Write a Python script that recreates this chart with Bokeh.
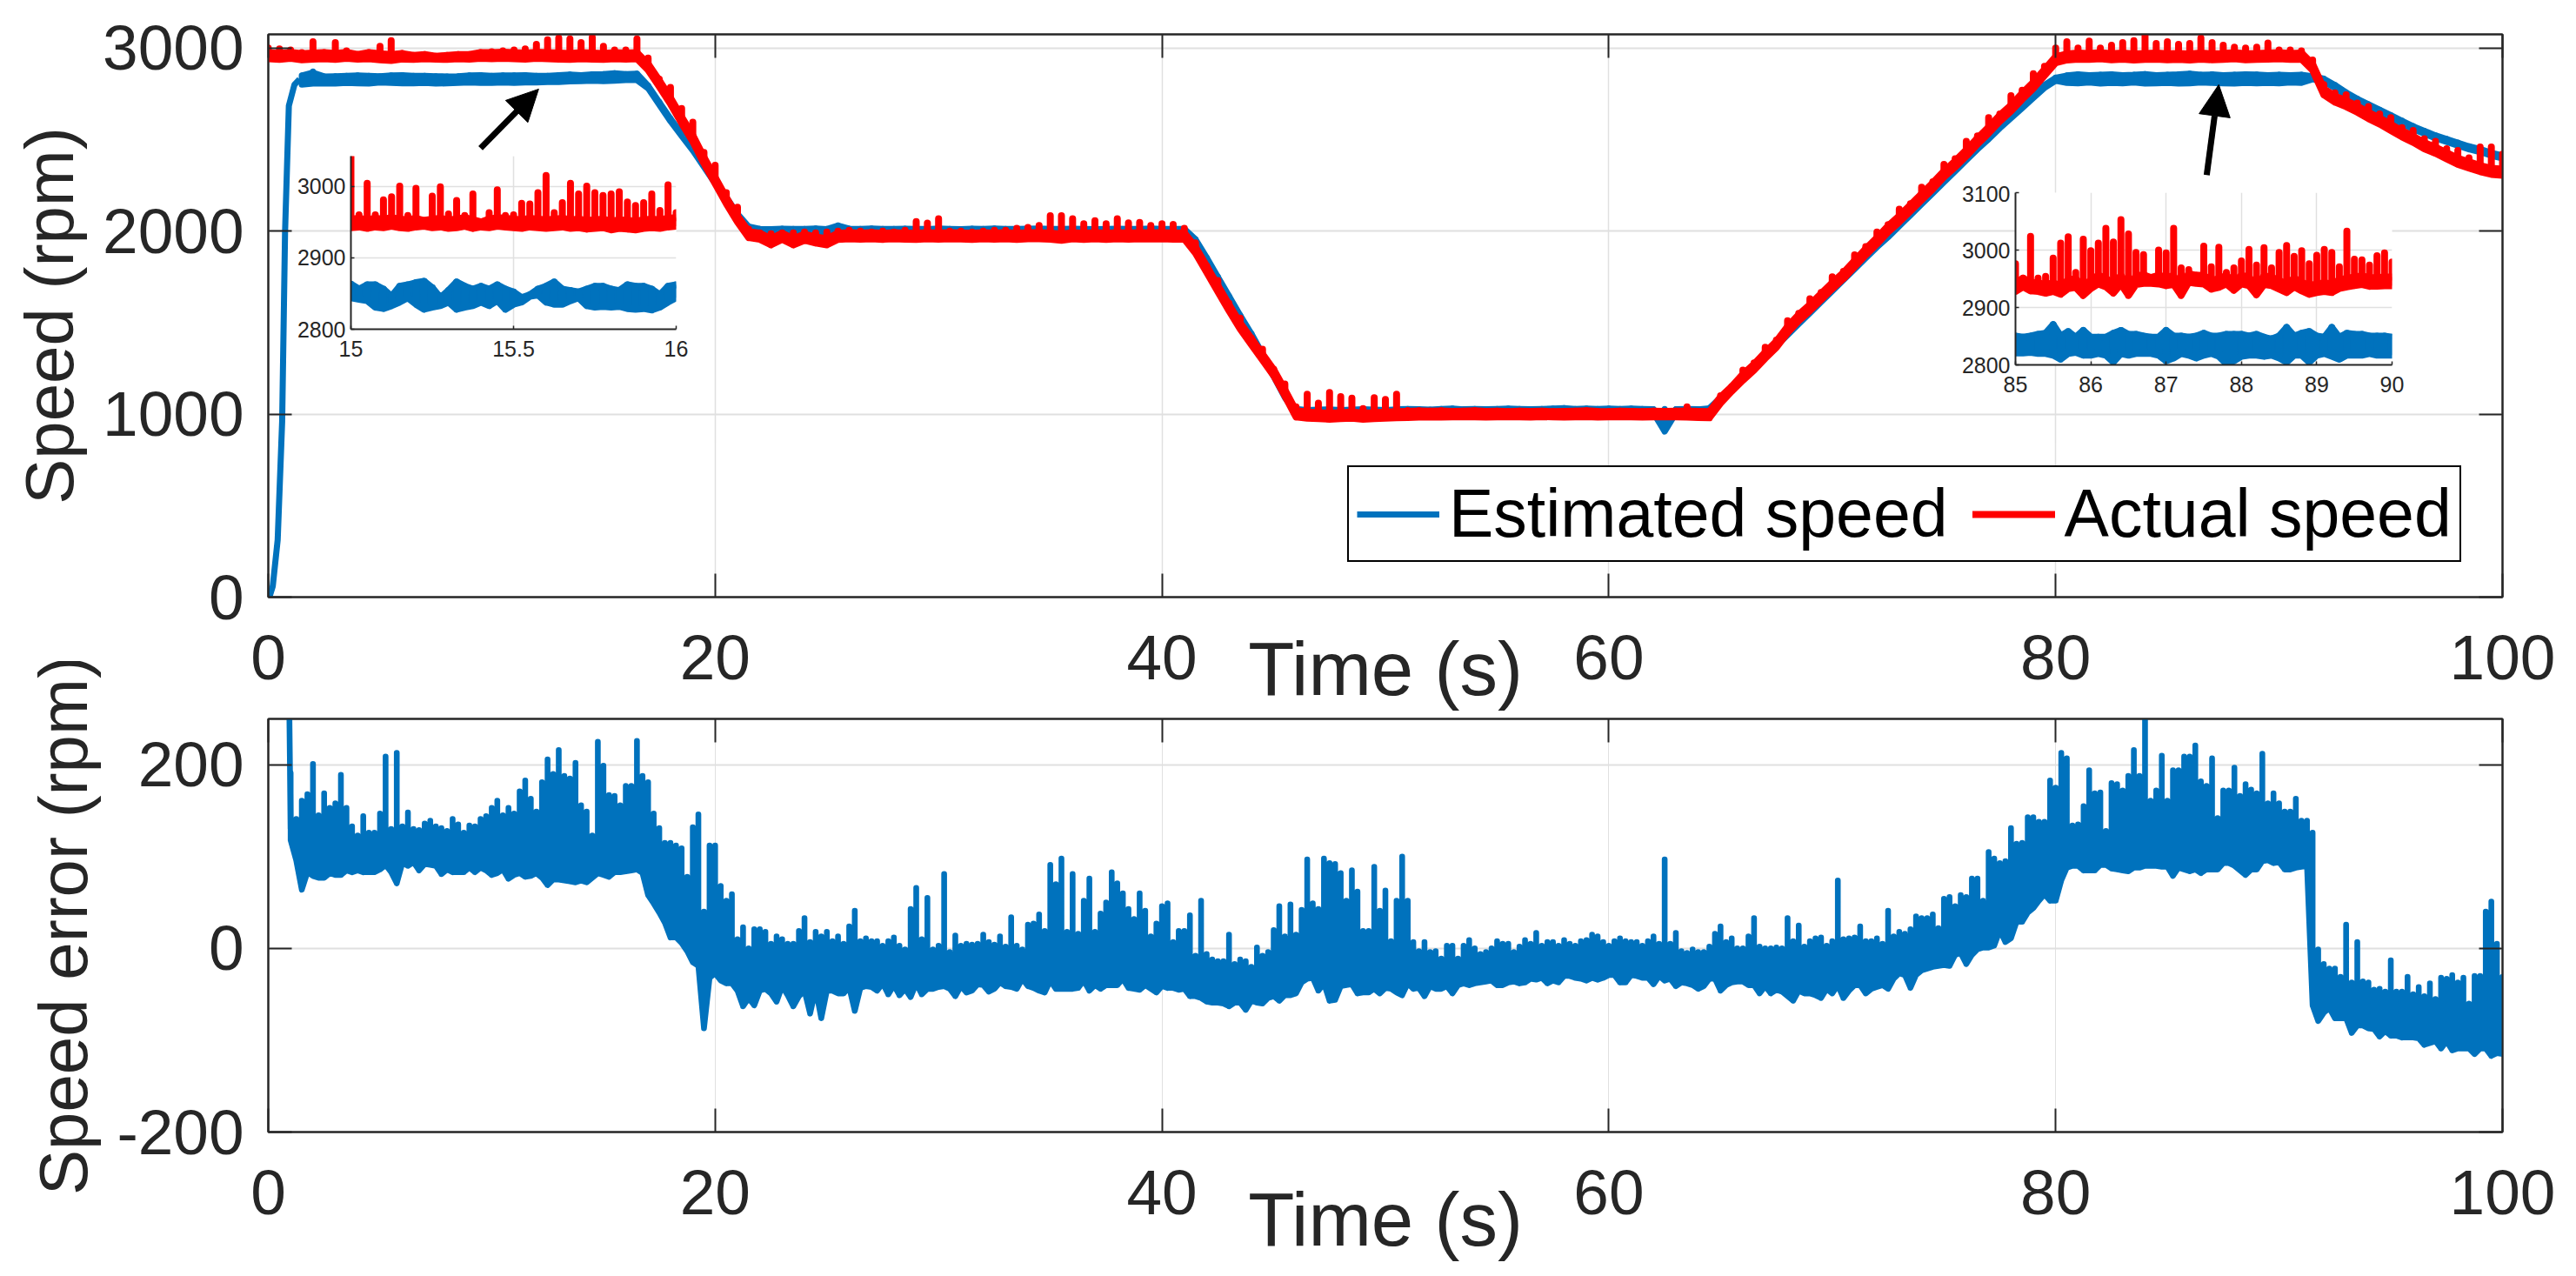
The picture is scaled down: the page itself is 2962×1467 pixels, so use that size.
import numpy as np
from bokeh.embed import file_html
from bokeh.models import (Arrow, FixedTicker, Legend, LegendItem, LinearAxis,
                          NormalHead, Range1d)
from bokeh.plotting import figure
from bokeh.resources import INLINE

# ---- top panel, estimated speed (rpm) --------------------------------------
BLUE_RISE_T = [0, 0.05, 0.2, 0.42, 0.62, 0.75, 0.92, 1.17, 1.4]
BLUE_RISE_V = [0, 0, 60, 313, 958, 1994, 2685, 2800, 2830]
BLUE_SPANS = [(1.5, 16.5), (17, 21.5), (22, 41), (41.5, 45.5), (46, 64), (64.5, 80), (80.5, 91), (91.5, 100)]
BLUE_HI = [
    [2850, 2872, 2845, 2846, 2848, 2850, 2848, 2846, 2850, 2852, 2848, 2848, 2846, 2845, 2846, 2850, 2852, 2848, 2850, 2850, 2852, 2848, 2848, 2852, 2855, 2852, 2856, 2858, 2862, 2858, 2860],
    [2795, 2705, 2615, 2535, 2455, 2365, 2275, 2185, 2095, 2025],
    [2012, 2010, 2013, 2011, 2012, 2014, 2011, 2030, 2013, 2012, 2014, 2012, 2011, 2013, 2012, 2011, 2014, 2012, 2010, 2013, 2012, 2014, 2012, 2011, 2013, 2014, 2012, 2011, 2013, 2012, 2010, 2012, 2013, 2011, 2012, 2014, 2012, 2011, 2012],
    [1955, 1855, 1750, 1645, 1540, 1440, 1330, 1220, 1105],
    [1028, 1022, 1024, 1026, 1022, 1024, 1026, 1024, 1022, 1026, 1028, 1026, 1024, 1028, 1030, 1026, 1028, 1026, 1028, 1030, 1028, 1026, 1028, 1030, 1032, 1028, 1030, 1028, 1030, 1028, 1030, 1028, 1026, 1028, 1026, 1028, 1026],
    [1032, 1090, 1150, 1208, 1268, 1328, 1388, 1448, 1508, 1568, 1628, 1688, 1748, 1808, 1868, 1928, 1983, 2043, 2103, 2163, 2223, 2283, 2343, 2403, 2463, 2518, 2578, 2633, 2688, 2743, 2798, 2838],
    [2850, 2856, 2852, 2854, 2856, 2852, 2854, 2858, 2852, 2854, 2856, 2860, 2854, 2856, 2852, 2854, 2856, 2855, 2852, 2854, 2852, 2854],
    [2846, 2833, 2798, 2758, 2723, 2693, 2663, 2633, 2603, 2573, 2548, 2523, 2503, 2483, 2463, 2448, 2428, 2413],
]
BLUE_LO = [
    [2800, 2806, 2808, 2806, 2810, 2808, 2806, 2812, 2810, 2808, 2808, 2810, 2806, 2808, 2810, 2812, 2810, 2810, 2812, 2810, 2812, 2812, 2815, 2815, 2818, 2820, 2822, 2820, 2822, 2825, 2825],
    [2780, 2690, 2600, 2520, 2440, 2350, 2260, 2170, 2080, 2010],
    [1992, 1990, 1992, 1988, 1990, 1992, 1990, 1988, 1992, 1990, 1991, 1992, 1990, 1988, 1990, 1992, 1990, 1991, 1990, 1988, 1992, 1990, 1988, 1990, 1992, 1990, 1988, 1990, 1992, 1990, 1990, 1955, 1990, 1988, 1990, 1992, 1990, 1988, 1990],
    [1940, 1840, 1735, 1630, 1525, 1425, 1315, 1205, 1090],
    [1006, 1004, 1006, 1005, 1004, 1006, 1004, 1005, 1006, 1004, 1006, 1005, 1004, 1006, 1005, 1006, 1004, 1006, 1005, 1004, 1006, 1005, 1006, 1005, 1004, 1006, 1005, 1004, 1006, 1005, 1004, 1006, 1005, 905, 1006, 1005, 1004],
    [1016, 1074, 1134, 1192, 1252, 1312, 1372, 1432, 1492, 1552, 1612, 1672, 1732, 1792, 1852, 1912, 1967, 2027, 2087, 2147, 2207, 2267, 2327, 2387, 2447, 2502, 2562, 2617, 2672, 2727, 2782, 2822],
    [2810, 2808, 2812, 2806, 2810, 2808, 2812, 2806, 2808, 2810, 2806, 2808, 2812, 2810, 2808, 2806, 2810, 2808, 2810, 2808, 2812, 2810],
    [2830, 2817, 2782, 2742, 2707, 2677, 2647, 2617, 2587, 2557, 2532, 2507, 2487, 2467, 2447, 2432, 2412, 2397],
]

# ---- top panel, actual speed (rpm) -----------------------------------------
RED_SPANS = [(0, 16.5), (17, 21.5), (22, 41), (41.5, 45.5), (46, 64), (64.5, 80), (80.5, 91), (91.5, 100)]
RED_HI = [
    [3000, 2995, 2990, 2975, 3035, 2975, 3030, 2985, 2965, 2975, 3010, 3040, 2970, 2960, 2965, 2955, 2960, 2965, 2965, 2975, 2980, 2985, 2990, 2995, 3020, 3045, 3055, 3050, 3030, 3060, 3010, 2990, 2990, 3050],
    [2945, 2830, 2785, 2670, 2595, 2430, 2360, 2210, 2130, 2010],
    [1990, 1985, 1990, 1990, 1995, 1990, 1995, 2000, 2005, 2000, 1995, 2000, 1995, 2005, 2052, 2044, 2068, 2000, 2000, 1995, 2000, 2005, 2005, 2015, 2020, 2030, 2084, 2084, 2068, 2040, 2057, 2040, 2068, 2045, 2047, 2030, 2040, 2036, 2015],
    [1935, 1810, 1730, 1605, 1525, 1415, 1355, 1245, 1165],
    [1040, 1108, 1060, 1118, 1095, 1087, 1030, 1090, 1080, 1108, 1020, 1018, 1016, 1018, 1015, 1016, 1018, 1015, 1016, 1014, 1016, 1015, 1016, 1014, 1015, 1016, 1018, 1015, 1014, 1016, 1015, 1014, 1016, 1015, 1016, 1040, 1015],
    [1015, 1100, 1150, 1240, 1280, 1365, 1405, 1510, 1550, 1630, 1665, 1750, 1780, 1870, 1915, 1995, 2035, 2120, 2150, 2240, 2270, 2365, 2395, 2490, 2520, 2620, 2640, 2740, 2770, 2860, 2900, 3000],
    [3035, 3000, 3038, 3000, 3015, 3030, 3040, 3070, 3025, 3035, 3020, 3025, 3055, 3030, 3015, 3005, 3000, 3005, 3028, 2990, 2990, 2985],
    [2935, 2800, 2755, 2745, 2700, 2680, 2640, 2620, 2565, 2550, 2505, 2490, 2450, 2440, 2400, 2460, 2460, 2420],
]
RED_LO = [
    [2942, 2938, 2944, 2936, 2940, 2942, 2938, 2944, 2940, 2942, 2936, 2932, 2940, 2938, 2942, 2940, 2938, 2942, 2940, 2944, 2942, 2944, 2942, 2940, 2944, 2942, 2940, 2938, 2942, 2940, 2938, 2942, 2940, 2942],
    [2880, 2790, 2695, 2590, 2490, 2370, 2260, 2150, 2050, 1965],
    [1955, 1925, 1955, 1925, 1950, 1935, 1925, 1955, 1958, 1956, 1958, 1955, 1958, 1956, 1955, 1958, 1956, 1958, 1957, 1955, 1958, 1956, 1958, 1955, 1958, 1958, 1956, 1950, 1958, 1955, 1958, 1955, 1958, 1956, 1958, 1957, 1958, 1956, 1957],
    [1880, 1775, 1670, 1565, 1465, 1380, 1295, 1210, 1100],
    [985, 978, 975, 972, 975, 978, 972, 975, 978, 980, 982, 984, 985, 984, 985, 986, 985, 984, 985, 986, 985, 984, 986, 985, 984, 985, 986, 984, 985, 986, 985, 984, 985, 986, 985, 984, 982],
    [980, 1060, 1125, 1185, 1240, 1305, 1365, 1445, 1510, 1565, 1625, 1685, 1740, 1805, 1870, 1930, 1995, 2050, 2110, 2170, 2230, 2295, 2350, 2410, 2475, 2535, 2600, 2655, 2720, 2780, 2850, 2920],
    [2935, 2940, 2938, 2942, 2936, 2940, 2935, 2938, 2940, 2936, 2938, 2935, 2940, 2936, 2938, 2942, 2936, 2938, 2940, 2942, 2938, 2940],
    [2880, 2745, 2705, 2680, 2650, 2615, 2585, 2550, 2515, 2485, 2450, 2425, 2395, 2365, 2345, 2325, 2310, 2305],
]

# ---- bottom panel, speed error (rpm) ---------------------------------------
ERR_START_T = [0.88, 0.95, 1.0]
ERR_START_V = [400, 240, 130]
ERR_SPANS = [(1, 20), (20, 40), (40, 60), (60, 80), (80, 100)]
ERR_HI = [
    [191, 141, 161, 168, 201, 145, 169, 153, 158, 189, 153, 133, 123, 144, 126, 126, 147, 209, 130, 213, 133, 148, 130, 129, 136, 139, 133, 131, 128, 141, 135, 126, 134, 133, 141, 144, 153, 161, 145, 153, 147, 171, 183, 163, 149, 181, 206, 190, 216, 188, 185, 202, 156, 149, 123, 225, 199, 167, 166, 156, 177, 177, 226, 188, 181, 147, 131, 115, 115, 112, 109, 78, 132, 146, 40, 112],
    [112, 68, 52, 59, 10, 23, 0, 21, 21, 18, 5, 13, 10, 5, 5, 19, 33, 7, 18, 13, 18, 8, 13, 5, 24, 41, 8, 11, 8, 8, 3, 8, 12, 3, -1, 43, 66, 10, 55, -1, 3, 81, -4, 14, 3, 5, 4, 5, 15, 7, 4, 13, 2, 34, 3, -1, 26, 27, 37, 19, 91, 70, 98, 18, 81, 16, 52, 76, 18, 38, 50, 83, 71, 60, 43, 32, 60, 41, 13, 27],
    [46, 49, 7, 19, 19, 36, -8, 52, -6, -12, -14, -14, 15, -17, -12, -14, -20, 1, -8, -4, 20, 46, 13, 48, 15, 42, 97, 49, 43, 98, 93, 92, 82, 52, 85, 62, 19, 19, 89, 41, 63, 8, 52, 100, 52, 7, -3, 7, -4, -3, -11, 3, 3, -11, 3, 9, 0, -6, -4, 0, 8, 5, 5, -4, 2, 9, 5, 17, 3, 7, 7, 3, 9, 5, 3, 8, 9, 15, 13, 7],
    [3, 8, 11, 8, 7, 7, 3, 8, 13, 5, 97, 5, 17, -3, -5, -1, -4, -4, 2, 16, 24, 7, 11, 0, 0, 13, 33, 2, 0, 0, 1, 0, 33, 8, 25, 2, 8, 11, 12, 3, 8, 74, 10, 11, 12, 24, 8, 8, 11, 5, 41, 13, 18, 16, 21, 35, 33, 33, 37, 22, 54, 56, 46, 58, 56, 76, 76, 52, 105, 98, 93, 95, 131, 114, 115, 143, 143, 138, 138, 183],
    [175, 213, 207, 134, 135, 155, 194, 169, 170, 128, 180, 179, 172, 188, 216, 188, 267, 161, 172, 210, 161, 194, 194, 209, 209, 221, 182, 177, 207, 142, 172, 172, 197, 166, 179, 173, 169, 212, 158, 169, 158, 149, 149, 163, 139, 139, 126, -1, -17, -22, -22, -31, 26, -37, 7, -36, -37, -45, -44, -47, -13, -47, -47, -31, -50, -42, -52, -38, -55, -32, -33, -29, -37, -32, -60, -30, -30, 40, 51, 5, -31],
]
ERR_LO = [
    [118, 96, 64, 83, 79, 77, 77, 82, 80, 80, 85, 83, 85, 83, 83, 83, 86, 91, 83, 71, 93, 90, 94, 85, 92, 91, 90, 81, 86, 83, 83, 83, 88, 83, 88, 85, 80, 82, 86, 76, 80, 82, 78, 79, 82, 77, 69, 75, 75, 74, 73, 72, 74, 72, 77, 82, 80, 78, 83, 83, 84, 85, 86, 82, 58, 49, 39, 28, 12, 12, 6, -3, -15, -19, -87, -32],
    [-27, -35, -38, -38, -46, -63, -54, -62, -46, -44, -49, -58, -41, -51, -63, -52, -46, -71, -44, -76, -46, -46, -49, -49, -42, -68, -43, -41, -42, -46, -38, -50, -40, -51, -44, -53, -38, -50, -44, -44, -42, -41, -44, -52, -41, -48, -46, -39, -40, -47, -44, -37, -41, -42, -44, -33, -41, -43, -46, -48, -35, -44, -44, -44, -44, -43, -35, -46, -40, -44, -40, -40, -40, -33, -43, -44, -45, -40, -44, -48],
    [-41, -43, -43, -45, -44, -52, -52, -54, -58, -59, -59, -60, -63, -59, -59, -67, -57, -59, -60, -54, -52, -57, -51, -51, -49, -37, -33, -32, -46, -38, -57, -56, -41, -40, -39, -49, -48, -48, -44, -49, -43, -44, -48, -51, -38, -44, -43, -52, -41, -44, -44, -41, -49, -40, -38, -40, -38, -37, -36, -35, -40, -40, -37, -36, -38, -37, -33, -34, -32, -38, -35, -37, -30, -30, -32, -33, -35, -32, -34, -32],
    [-29, -29, -37, -37, -29, -30, -32, -32, -39, -30, -35, -33, -41, -37, -38, -40, -44, -41, -33, -33, -46, -40, -37, -36, -36, -40, -40, -49, -41, -49, -45, -47, -52, -57, -46, -49, -49, -51, -54, -44, -49, -40, -54, -46, -40, -40, -49, -44, -42, -40, -44, -33, -27, -29, -43, -29, -24, -22, -20, -19, -18, -19, -7, -5, -17, -7, -1, 1, 1, 3, 20, 7, 11, 29, 29, 39, 44, 52, 59, 52],
    [52, 74, 88, 90, 90, 85, 85, 85, 91, 91, 87, 86, 85, 84, 88, 88, 90, 90, 90, 89, 89, 79, 88, 86, 84, 86, 82, 86, 86, 86, 93, 93, 90, 85, 80, 86, 86, 95, 96, 93, 94, 86, 86, 88, 89, 90, -62, -79, -70, -65, -76, -76, -76, -92, -84, -84, -87, -88, -96, -90, -95, -95, -97, -97, -97, -98, -105, -103, -101, -109, -101, -111, -109, -109, -109, -115, -109, -109, -117, -114, -115],
]

# ---- inset 1 (15 to 16 s) --------------------------------------------------
INSET1_RED_HI = [3041, 2960, 3004, 2960, 2981, 2985, 3000, 2959, 2997, 2952, 2986, 2999, 2961, 2980, 2959, 2989, 2950, 2963, 2995, 2959, 2960, 2976, 2975, 2991, 3015, 2963, 2977, 3004, 2989, 3000, 2991, 2987, 2989, 2992, 2978, 2973, 2977, 2989, 2966, 3002, 2963]
INSET1_RED_LO = [2942, 2943, 2941, 2943, 2942, 2944, 2942, 2941, 2943, 2944, 2942, 2943, 2941, 2942, 2944, 2941, 2943, 2942, 2944, 2943, 2942, 2941, 2943, 2942, 2941, 2942, 2943, 2941, 2942, 2940, 2941, 2942, 2939, 2941, 2940, 2939, 2941, 2942, 2941, 2943, 2944]
INSET1_BLUE_HI = [2863, 2856, 2862, 2862, 2856, 2846, 2860, 2862, 2865, 2867, 2858, 2844, 2854, 2866, 2860, 2856, 2860, 2856, 2862, 2856, 2852, 2844, 2848, 2856, 2860, 2866, 2856, 2854, 2852, 2856, 2860, 2860, 2856, 2854, 2862, 2860, 2860, 2856, 2848, 2860, 2862]
INSET1_BLUE_LO = [2844, 2842, 2840, 2831, 2829, 2833, 2838, 2844, 2835, 2828, 2831, 2833, 2838, 2828, 2831, 2833, 2838, 2833, 2840, 2828, 2835, 2838, 2846, 2848, 2838, 2835, 2835, 2840, 2844, 2833, 2831, 2832, 2831, 2832, 2829, 2828, 2829, 2827, 2831, 2838, 2844]
INSET1_XTICKS = [15, 15.5, 16]
INSET1_YTICKS = [2800, 2900, 3000]

# ---- inset 2 (85 to 90 s) --------------------------------------------------
INSET2_RED_HI = [2976, 2951, 3024, 2951, 2954, 2986, 3012, 3023, 2961, 3019, 2999, 3012, 3038, 3014, 3053, 3028, 2996, 2992, 2952, 3000, 2995, 3038, 2969, 2966, 2956, 3007, 2971, 3005, 2961, 2969, 2981, 3001, 2974, 3004, 2969, 2996, 3008, 2989, 2999, 2976, 2991, 3001, 2996, 2971, 3033, 2984, 2983, 2974, 2990, 2995, 2979]
INSET2_RED_LO = [2928, 2936, 2929, 2928, 2925, 2928, 2923, 2933, 2935, 2921, 2933, 2941, 2936, 2925, 2941, 2921, 2940, 2942, 2942, 2941, 2938, 2940, 2921, 2944, 2942, 2941, 2932, 2935, 2941, 2930, 2941, 2938, 2922, 2940, 2938, 2932, 2926, 2936, 2929, 2923, 2926, 2928, 2926, 2933, 2936, 2938, 2940, 2937, 2937, 2938, 2938]
INSET2_BLUE_HI = [2850, 2848, 2850, 2853, 2855, 2870, 2850, 2858, 2848, 2860, 2848, 2848, 2848, 2855, 2860, 2853, 2853, 2850, 2848, 2848, 2860, 2850, 2850, 2848, 2850, 2855, 2850, 2850, 2853, 2853, 2853, 2850, 2853, 2848, 2845, 2850, 2865, 2850, 2855, 2858, 2850, 2848, 2865, 2848, 2855, 2853, 2853, 2850, 2850, 2850, 2848]
INSET2_BLUE_LO = [2821, 2821, 2822, 2820, 2820, 2817, 2810, 2820, 2822, 2817, 2817, 2820, 2817, 2805, 2820, 2817, 2820, 2820, 2820, 2817, 2807, 2812, 2820, 2817, 2812, 2817, 2820, 2815, 2802, 2807, 2815, 2817, 2817, 2815, 2817, 2812, 2805, 2817, 2817, 2805, 2817, 2820, 2815, 2810, 2817, 2817, 2817, 2820, 2817, 2817, 2817]
INSET2_XTICKS = [85, 86, 87, 88, 89, 90]
INSET2_YTICKS = [2800, 2900, 3000, 3100]

# ---- axis ticks and text ---------------------------------------------------
XTICKS = [0, 20, 40, 60, 80, 100]
SPEED_TICKS = [0, 1000, 2000, 3000]
ERR_TICKS = [-200, 0, 200]
SPEED_LABEL = "Speed (rpm)"
ERR_LABEL = "Speed error (rpm)"
TIME_LABEL = "Time (s)"
LEGEND_LABELS = ["Estimated speed", "Actual speed"]

BLUE = "#0072BD"
RED = "#FF0000"
DARK = "#262626"
GRID = "#E0E0E0"
FONT = "Liberation Sans"


def trace(p, t, hi, lo, color, width, band=None):
    """Solid band along the lower envelope, with a vertical stroke up to the upper envelope."""
    t = np.asarray(t, float)
    hi = np.asarray(hi, float)
    lo = np.asarray(lo, float)
    if band is not None:
        top = np.minimum(hi, lo + band)
        p.varea(t, lo, top, fill_color=color)
        p.line(t, top, line_color=color, line_width=width, line_join="round")
    x = np.repeat(t, 3)
    y = np.column_stack([lo, hi, lo]).ravel()
    return p.line(x, y, line_color=color, line_width=width, line_join="round", line_cap="round")


def joined(spans, his, los, endpoint=True):
    t = np.concatenate([np.linspace(a, b, len(h), endpoint=endpoint) for (a, b), h in zip(spans, his)])
    return t, np.concatenate(his), np.concatenate(los)


def style_main(p, xticks, yticks, ylabel, label_standoff):
    blank = lambda ticks: {t: "" for t in ticks}
    bottom, left = p.xaxis[0], p.yaxis[0]
    bottom.ticker = FixedTicker(ticks=xticks)
    left.ticker = FixedTicker(ticks=yticks)
    bottom.axis_label = TIME_LABEL
    left.axis_label = ylabel
    left.major_label_overrides = {t: str(t) for t in yticks}
    top = LinearAxis(ticker=FixedTicker(ticks=xticks), major_label_overrides=blank(xticks))
    right = LinearAxis(ticker=FixedTicker(ticks=yticks), major_label_overrides=blank(yticks))
    p.add_layout(top, "above")
    p.add_layout(right, "right")
    for ax in (bottom, left, top, right):
        ax.major_tick_in = 27
        ax.major_tick_out = 0
        ax.minor_tick_line_color = None
        ax.major_tick_line_color = DARK
        ax.major_tick_line_width = 2
        ax.axis_line_color = DARK
        ax.axis_line_width = 2
    for ax in (top, right):
        ax.major_label_text_font_size = "0px"
        ax.major_label_standoff = 0
    for ax in (bottom, left):
        ax.major_label_text_font = FONT
        ax.major_label_text_font_size = "73px"
        ax.major_label_text_color = DARK
        ax.axis_label_text_font = FONT
        ax.axis_label_text_font_style = "normal"
        ax.axis_label_text_color = DARK
    bottom.major_label_standoff = 44
    left.major_label_standoff = 28
    bottom.axis_label_text_font_size = "87px"
    left.axis_label_text_font_size = "78px"
    bottom.axis_label_standoff = label_standoff
    left.axis_label_standoff = 14
    p.xgrid[0].ticker = FixedTicker(ticks=xticks)
    p.ygrid[0].ticker = FixedTicker(ticks=yticks)
    p.xgrid[0].grid_line_color = GRID
    p.ygrid[0].grid_line_color = GRID
    p.xgrid[0].grid_line_width = 1.5
    p.ygrid[0].grid_line_width = 2
    p.outline_line_color = DARK
    p.outline_line_width = 2


# ---- top panel -------------------------------------------------------------
p1 = figure(width=2950, height=840, output_backend="svg", toolbar_location=None,
            x_range=Range1d(0, 100), y_range=Range1d(0, 3075),
            min_border_left=308, min_border_right=73, min_border_top=39, min_border_bottom=154,
            styles={"position": "absolute", "left": "0px", "top": "0px"})
style_main(p1, XTICKS, SPEED_TICKS, SPEED_LABEL, -64)
r_blue = p1.line(BLUE_RISE_T, BLUE_RISE_V, line_color=BLUE, line_width=7, line_join="round")
trace(p1, *joined(BLUE_SPANS, BLUE_HI, BLUE_LO), BLUE, 7, band=60)
r_red = trace(p1, *joined(RED_SPANS, RED_HI, RED_LO), RED, 8, band=33)
legend = Legend(items=[LegendItem(label=LEGEND_LABELS[0], renderers=[r_blue]),
                       LegendItem(label=LEGEND_LABELS[1], renderers=[r_red])],
                orientation="horizontal", location=(1241, 40), margin=0, padding=9,
                spacing=28, glyph_width=95, glyph_height=60, label_standoff=11,
                label_text_font=FONT, label_text_font_size="77px", label_text_color="black",
                border_line_color="black", border_line_alpha=1, border_line_width=2,
                background_fill_color="white", background_fill_alpha=1)
p1.add_layout(legend, "center")
for xs, ys, xe, ye in [(9.5, 2453, 12.1, 2776), (86.76, 2306, 87.3, 2800)]:
    p1.add_layout(Arrow(end=NormalHead(size=36, line_color="black", line_width=1, fill_color="black"),
                        x_start=xs, y_start=ys, x_end=xe, y_end=ye,
                        line_color="black", line_width=7))

# ---- bottom panel ----------------------------------------------------------
p2 = figure(width=2950, height=695, output_backend="svg", toolbar_location=None,
            x_range=Range1d(0, 100), y_range=Range1d(-200, 250),
            min_border_left=308, min_border_right=73, min_border_top=66, min_border_bottom=154,
            border_fill_alpha=0,
            styles={"position": "absolute", "left": "0px", "top": "760px"})
style_main(p2, XTICKS, ERR_TICKS, ERR_LABEL, -46)
p2.xgrid[0].grid_line_width = 1
p2.line(ERR_START_T, ERR_START_V, line_color=BLUE, line_width=6.6)
et = np.concatenate([np.linspace(a, b, len(h), endpoint=(b == 100)) for (a, b), h in zip(ERR_SPANS, ERR_HI)])
trace(p2, et, np.concatenate(ERR_HI), np.concatenate(ERR_LO), BLUE, 6.6)


# ---- insets ----------------------------------------------------------------
def inset(left, top, fw, fh, xr, yr, xticks, yticks):
    p = figure(width=70 + fw + 25, height=8 + fh + 50, output_backend="svg", toolbar_location=None,
               x_range=Range1d(*xr), y_range=Range1d(*yr),
               min_border_left=70, min_border_right=25, min_border_top=8, min_border_bottom=50,
               border_fill_alpha=0, background_fill_color="white",
               styles={"position": "absolute", "left": f"{left}px", "top": f"{top}px"})
    p.outline_line_color = None
    p.xaxis[0].ticker = FixedTicker(ticks=xticks)
    p.xaxis[0].major_label_overrides = {t: str(t) for t in xticks}
    p.yaxis[0].ticker = FixedTicker(ticks=yticks)
    p.xgrid[0].ticker = FixedTicker(ticks=xticks)
    p.ygrid[0].ticker = FixedTicker(ticks=yticks)
    p.xgrid[0].grid_line_color = GRID
    p.ygrid[0].grid_line_color = GRID
    p.xgrid[0].grid_line_width = 1.5
    p.ygrid[0].grid_line_width = 1.5
    for ax in (p.xaxis[0], p.yaxis[0]):
        ax.major_tick_in = 4
        ax.major_tick_out = 0
        ax.minor_tick_line_color = None
        ax.major_tick_line_color = DARK
        ax.major_tick_line_width = 1.5
        ax.axis_line_color = DARK
        ax.axis_line_width = 2
        ax.major_label_text_font = FONT
        ax.major_label_text_font_size = "25px"
        ax.major_label_text_color = DARK
    p.xaxis[0].major_label_standoff = 13
    p.yaxis[0].major_label_standoff = 6
    return p


ins1 = inset(333, 171, 374, 199, (15, 16), (2800, 3042), INSET1_XTICKS, INSET1_YTICKS)
trace(ins1, np.linspace(15, 16, len(INSET1_BLUE_HI)), INSET1_BLUE_HI, INSET1_BLUE_LO, BLUE, 8, band=40)
trace(ins1, np.linspace(15, 16, len(INSET1_RED_HI)), INSET1_RED_HI, INSET1_RED_LO, RED, 8, band=12)

ins2 = inset(2247, 213, 433, 198, (85, 90), (2800, 3100), INSET2_XTICKS, INSET2_YTICKS)
trace(ins2, np.linspace(85, 90, len(INSET2_BLUE_HI)), INSET2_BLUE_HI, INSET2_BLUE_LO, BLUE, 8, band=60)
trace(ins2, np.linspace(85, 90, len(INSET2_RED_HI)), INSET2_RED_HI, INSET2_RED_LO, RED, 8, band=15)

open("out.html", "w").write(file_html([p1, p2, ins1, ins2], INLINE))
